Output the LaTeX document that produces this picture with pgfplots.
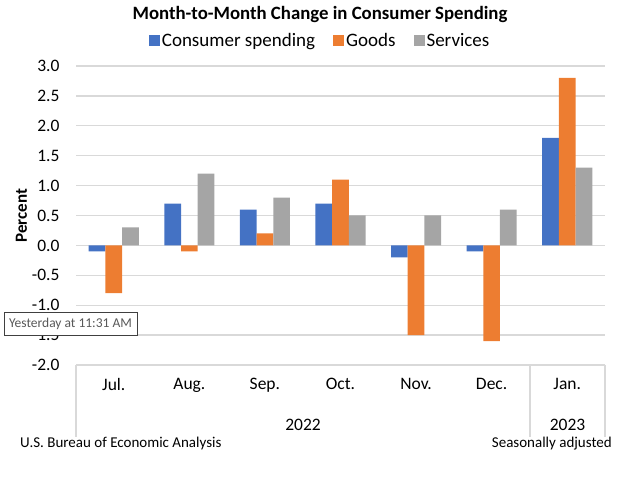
\documentclass[border=0pt]{standalone}
\usepackage{pgfplots}
\pgfplotsset{compat=1.18}
\usepackage{fontspec}
\setmainfont{Carlito}
\definecolor{cblue}{HTML}{4472C4}
\definecolor{corange}{HTML}{ED7D31}
\definecolor{cgray}{HTML}{A5A5A5}
\definecolor{gridc}{HTML}{D9D9D9}
\begin{document}
\begin{tikzpicture}[x=1pt,y=1pt]
\path[use as bounding box] (0,0) rectangle (627,482);
\begin{axis}[
  at={(76pt,117pt)}, anchor=south west, scale only axis,
  width=529pt, height=299pt,
  xmin=-0.5, xmax=6.5, ymin=-2, ymax=3,
  ybar=0pt, bar width=16.7pt,
  axis line style={draw=none},
  major tick length=0pt,
  ymajorgrids, grid style={gridc, line width=1.3pt},
  ytick={-2,-1.5,...,3},
  yticklabel style={/pgf/number format/fixed, /pgf/number format/precision=1, /pgf/number format/fixed zerofill, font=\fontsize{17.5}{20}\selectfont, xshift=-13pt},
  /pgf/number format/assume math mode=true,
  xtick={0,...,6},
  xticklabels={Jul.,Aug.,Sep.,Oct.,Nov.,Dec.,Jan.},
  xticklabel style={font=\fontsize{17.5}{20}\selectfont, yshift=-10pt},
  ylabel={\textbf{Percent}}, ylabel style={font=\fontsize{17}{20}\selectfont, xshift=0pt, yshift=-2pt},
  legend columns=3,
  legend style={at={(0.4615,1.084)}, anchor=center, draw=none, fill=none,
    font=\fontsize{19}{22}\selectfont,
    /tikz/every even column/.append style={column sep=16pt}},
  legend image code/.code={\fill[#1] (0pt,-5.5pt) rectangle (11pt,5.5pt);},
]
\addplot[fill=cblue, draw=none] coordinates {(0,-0.1) (1,0.7) (2,0.6) (3,0.7) (4,-0.2) (5,-0.1) (6,1.8)};
\addplot[fill=corange, draw=none] coordinates {(0,-0.8) (1,-0.1) (2,0.2) (3,1.1) (4,-1.5) (5,-1.6) (6,2.8)};
\addplot[fill=cgray, draw=none] coordinates {(0,0.3) (1,1.2) (2,0.8) (3,0.5) (4,0.5) (5,0.6) (6,1.3)};
\legend{Consumer spending, Goods, Services}
\end{axis}
\node[font=\fontsize{18.8}{22}\selectfont\bfseries] at (320,467) {Month-to-Month Change in Consumer Spending};
\draw[gridc, line width=1.3pt] (76,117) -- (76,45) (530,117) -- (530,45) (605,117) -- (605,45);
\node[font=\fontsize{17.5}{20}\selectfont] at (303,57) {2022};
\node[font=\fontsize{17.5}{20}\selectfont] at (567.5,57) {2023};
\node[font=\fontsize{15}{18}\selectfont, anchor=west, inner sep=0pt] at (20,38) {U.S. Bureau of Economic Analysis};
\node[font=\fontsize{15}{18}\selectfont, anchor=east, inner sep=0pt] at (612,38) {Seasonally adjusted};
\node[draw=black!75, fill=white, line width=0.8pt, font=\fontsize{13.5}{15}\selectfont, text=black!65, minimum width=133pt, minimum height=23pt, inner sep=0pt] at (70.5,158.5) {Yesterday at 11:31 AM};
\end{tikzpicture}
\end{document}
